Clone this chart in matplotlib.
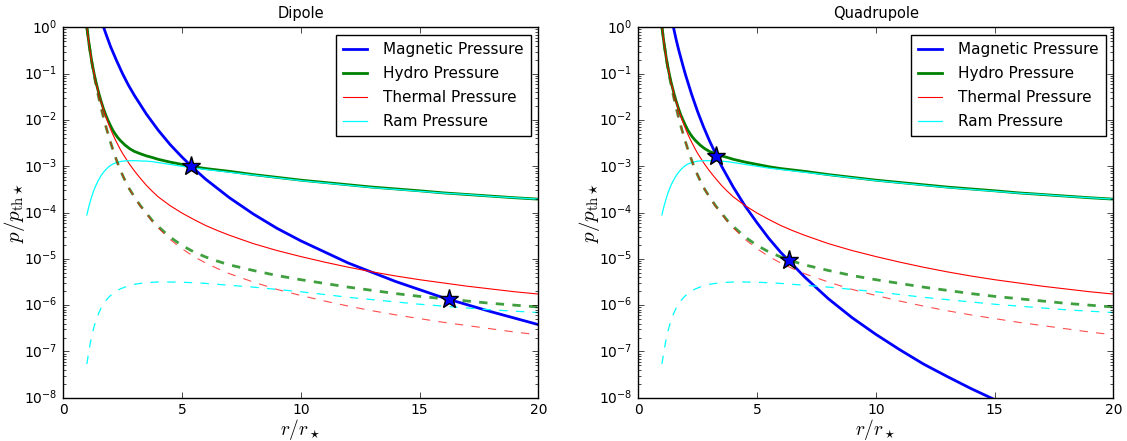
import numpy as np
import matplotlib
matplotlib.use("Agg")
import matplotlib.pyplot as plt

plt.style.use("classic")
plt.rcParams["figure.facecolor"] = "white"
plt.rcParams["savefig.facecolor"] = "white"
plt.rcParams["mathtext.fontset"] = "dejavusans"
plt.rcParams["font.family"] = ["DejaVu Sans"]

# radius grid shared by the hydro curves (r / r_star)
r = [1.0, 1.05, 1.1, 1.15, 1.2, 1.25, 1.3, 1.35, 1.4,
     1.5, 1.6, 1.7, 1.8, 1.9, 2.0, 2.1, 2.2, 2.3, 2.4, 2.5, 2.6,
     2.8, 3.0, 3.25, 3.5, 3.75, 4.0,
     4.5, 5.0, 5.5, 6.0, 6.5, 7.0,
     8.0, 9.0, 10.0, 11.0, 12.0, 13.0, 14.0, 15.0, 16.0, 17.0, 18.0, 19.0, 20.0]

# log10(p / p_th*) -- solid set
thermal_solid = [0.0, -0.2, -0.39, -0.56, -0.72, -0.86, -0.99, -1.11, -1.22,
                 -1.43, -1.61, -1.78, -1.93, -2.07, -2.2, -2.32, -2.43, -2.53, -2.63, -2.72, -2.8,
                 -2.96, -3.1, -3.26, -3.41, -3.54, -3.66,
                 -3.85, -4.01, -4.15, -4.28, -4.39, -4.49,
                 -4.67, -4.82, -4.95, -5.07, -5.18, -5.28, -5.37, -5.45, -5.52, -5.59, -5.65, -5.71, -5.76]
ram_solid = [-4.05, -3.94, -3.84, -3.75, -3.66, -3.58, -3.51, -3.45, -3.39,
             -3.29, -3.2, -3.13, -3.07, -3.02, -2.98, -2.95, -2.93, -2.915, -2.9, -2.89, -2.885,
             -2.88, -2.88, -2.885, -2.89, -2.9, -2.92,
             -2.96, -3.0, -3.04, -3.07, -3.1, -3.13,
             -3.19, -3.25, -3.31, -3.36, -3.41, -3.46, -3.5, -3.54, -3.58, -3.61, -3.65, -3.68, -3.71]
hydro_solid = [0.0, -0.2, -0.39, -0.56, -0.72, -0.86, -0.99, -1.11, -1.22,
               -1.42, -1.6, -1.76, -1.9, -2.02, -2.13, -2.23, -2.31, -2.38, -2.44, -2.49, -2.54,
               -2.62, -2.68, -2.73, -2.775, -2.81, -2.85,
               -2.91, -2.96, -3.01, -3.05, -3.08, -3.11,
               -3.18, -3.24, -3.3, -3.35, -3.4, -3.45, -3.49, -3.53, -3.575, -3.61, -3.645, -3.68, -3.71]

# dashed set
thermal_dash = [0.0, -0.2, -0.39, -0.56, -0.73, -0.88, -1.02, -1.15, -1.28,
                -1.52, -1.74, -1.95, -2.14, -2.32, -2.49, -2.65, -2.8, -2.94, -3.07, -3.19, -3.3,
                -3.5, -3.67, -3.86, -4.02, -4.19, -4.33,
                -4.58, -4.78, -4.95, -5.09, -5.21, -5.32,
                -5.5, -5.66, -5.79, -5.91, -6.02, -6.12, -6.21, -6.29, -6.37, -6.44, -6.51, -6.58, -6.64]
ram_dash = [-7.27, -7.1, -6.95, -6.8, -6.68, -6.57, -6.47, -6.38, -6.3,
            -6.17, -6.06, -5.97, -5.9, -5.84, -5.79, -5.75, -5.71, -5.68, -5.65, -5.63, -5.61,
            -5.58, -5.55, -5.53, -5.515, -5.505, -5.5,
            -5.5, -5.505, -5.515, -5.53, -5.55, -5.57,
            -5.61, -5.66, -5.71, -5.77, -5.83, -5.88, -5.93, -5.98, -6.02, -6.06, -6.1, -6.13, -6.16]
hydro_dash = [0.0, -0.2, -0.39, -0.56, -0.73, -0.88, -1.02, -1.15, -1.28,
              -1.52, -1.74, -1.95, -2.14, -2.32, -2.49, -2.65, -2.8, -2.94, -3.07, -3.19, -3.3,
              -3.5, -3.66, -3.85, -4.01, -4.17, -4.3,
              -4.53, -4.71, -4.85, -4.96, -5.05, -5.13,
              -5.25, -5.36, -5.45, -5.53, -5.61, -5.68, -5.75, -5.81, -5.86, -5.91, -5.96, -6.0, -6.04]

# magnetic pressure, one curve per field geometry
r_dip = [1.5, 1.6, 1.7, 1.8, 1.9, 2.0, 2.25, 2.5, 2.75, 3.0, 3.5, 4.0, 4.5, 5.0, 5.5, 6.0, 7.0, 8.0, 9.0,
         10.0, 12.0, 14.0, 16.0, 18.0, 20.0]
mag_dip = [0.33, 0.165, 0.007, -0.14, -0.28, -0.42, -0.72, -1.0, -1.25, -1.47, -1.87, -2.22, -2.53, -2.8,
           -3.05, -3.28, -3.68, -4.03, -4.34, -4.61, -5.09, -5.49, -5.84, -6.14, -6.42]
r_quad = [1.4, 1.5, 1.6, 1.7, 1.8, 1.9, 2.0, 2.25, 2.5, 2.75, 3.0, 3.5, 4.0, 4.5, 5.0, 5.5, 6.0, 7.0, 8.0,
          9.0, 10.0, 11.0, 12.0, 13.0, 14.0, 15.0, 16.0]
mag_quad = [0.2, -0.04, -0.27, -0.48, -0.67, -0.86, -1.04, -1.45, -1.82, -2.15, -2.45, -2.99, -3.45, -3.86,
            -4.22, -4.56, -4.86, -5.39, -5.86, -6.27, -6.63, -6.96, -7.27, -7.54, -7.8, -8.04, -8.27]

# pressure balance points (r, p)
stars_dip_r = [5.39, 16.23]
stars_dip_p = [1.0e-3, 1.38e-6]
stars_quad_r = [3.29, 6.33]
stars_quad_p = [1.7e-3, 9.6e-6]

panels = [
    ("Dipole", r_dip, mag_dip, stars_dip_r, stars_dip_p),
    ("Quadrupole", r_quad, mag_quad, stars_quad_r, stars_quad_p),
]

fig, axes = plt.subplots(1, 2, figsize=(11.27, 4.41))
fig.subplots_adjust(left=0.056, right=0.988, bottom=0.098, top=0.938, wspace=0.21)

for ax, (title, rm, pm, sr, sp) in zip(axes, panels):
    ax.plot(rm, 10 ** np.array(pm), color="b", lw=2, label="Magnetic Pressure")
    ax.plot(r, 10 ** np.array(hydro_solid), color="g", lw=2, label="Hydro Pressure")
    ax.plot(r, 10 ** np.array(thermal_solid), color="r", lw=0.8, label="Thermal Pressure")
    ax.plot(r, 10 ** np.array(ram_solid), color="cyan", lw=0.9, label="Ram Pressure")
    ax.plot(r, 10 ** np.array(hydro_dash), color="g", lw=2, ls="--", alpha=0.75)
    ax.plot(r, 10 ** np.array(thermal_dash), color="r", lw=0.8, ls="--", alpha=0.7)
    ax.plot(r, 10 ** np.array(ram_dash), color="cyan", lw=0.9, ls="--")
    ax.plot(sr, sp, ls="none", marker="*", ms=14, mfc="b", mec="k", mew=1)

    ax.set_yscale("log")
    ax.set_xlim(0, 20)
    ax.set_ylim(1e-8, 1)
    ax.set_xticks([0, 5, 10, 15, 20])
    ax.tick_params(labelsize=10)
    ax.set_title(title, fontsize=10.5, pad=7)
    ax.set_xlabel(r"$r/r_\star$", fontsize=14, math_fontfamily="cm", labelpad=0)
    ax.set_ylabel(r"$p/p_{\rm th\star}$", fontsize=15, math_fontfamily="cm", labelpad=-2)
    ax.legend(loc="upper right", fontsize=11, numpoints=1, handlelength=1.6,
              labelspacing=0.6, borderpad=0.45, handletextpad=1.05)

fig.savefig("out.png", dpi=100)
